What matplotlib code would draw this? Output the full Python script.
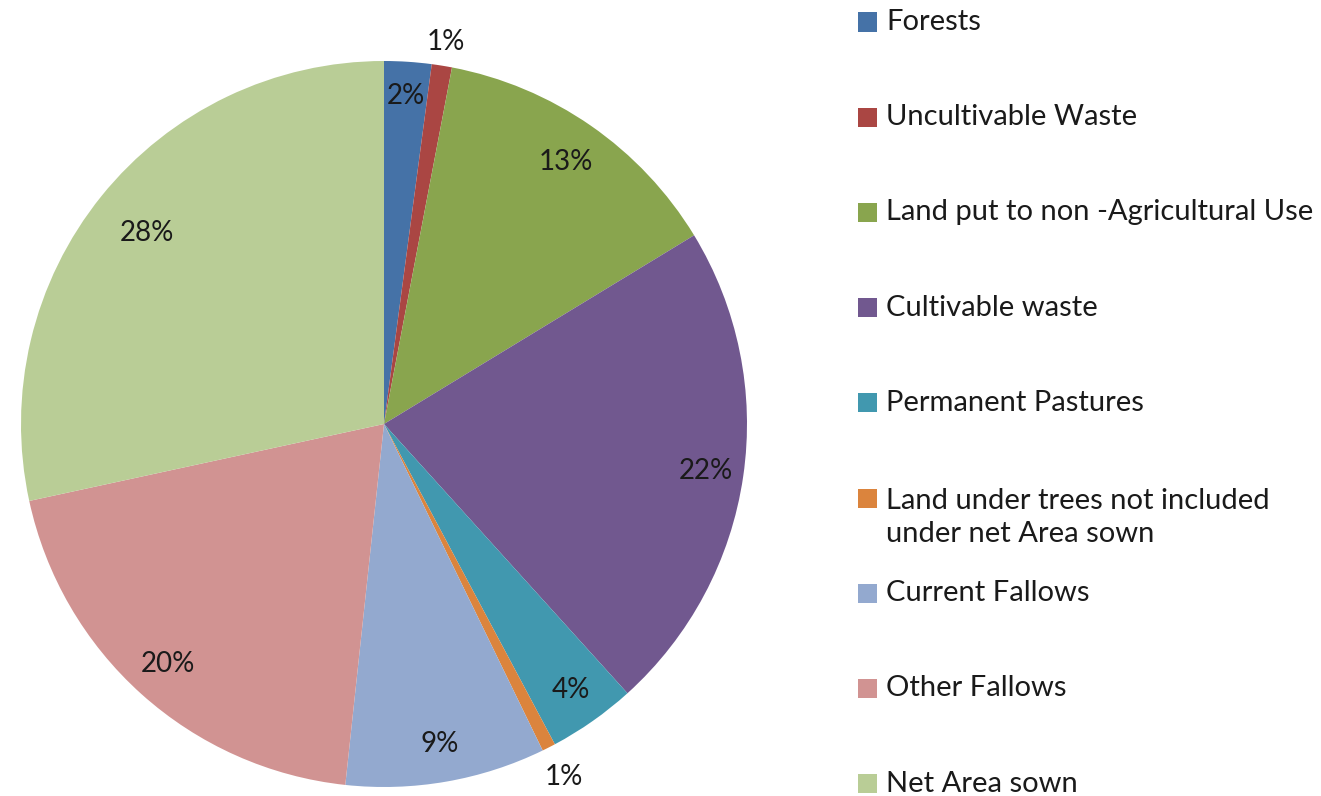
import numpy as np
import matplotlib.pyplot as plt
from matplotlib.patches import Rectangle

# land use shares (percent)
categories = ["Forests", "Uncultivable Waste", "Land put to non -Agricultural Use",
              "Cultivable waste", "Permanent Pastures",
              "Land under trees not included\nunder net Area sown",
              "Current Fallows", "Other Fallows", "Net Area sown"]
shares = [2.1, 0.9, 13.3, 22.0, 3.9, 0.6, 8.9, 19.9, 28.4]
pct_labels = ["2%", "1%", "13%", "22%", "4%", "1%", "9%", "20%", "28%"]

colors = ["#4572A7", "#AA4643", "#89A54E", "#71588F", "#4198AF",
          "#DB843D", "#93A9CF", "#D19392", "#B9CD96"]
label_r = [0.905, 1.065, 0.877, 0.896, 0.894, 1.09, 0.895, 0.89, 0.84]

plt.rcParams['font.family'] = ['Lato', 'DejaVu Sans']

W, H = 1321, 796
fig = plt.figure(figsize=(W / 100, H / 100), dpi=100)
cx, cy, R = 384, 424, 363
ax = fig.add_axes([(cx - R) / W, (H - cy - R) / H, 2 * R / W, 2 * R / H])

wedges, _ = ax.pie(shares, colors=colors, startangle=90, counterclock=False,
                   radius=1, wedgeprops=dict(linewidth=0))
ax.set_xlim(-1, 1)
ax.set_ylim(-1, 1)
ax.set_aspect('equal')
ax.axis('off')

# percent labels at the middle angle of each wedge
for w, lab, r in zip(wedges, pct_labels, label_r):
    ang = np.deg2rad((w.theta1 + w.theta2) / 2)
    ax.text(r * np.cos(ang), r * np.sin(ang), lab, ha='center', va='center',
            fontsize=20, color='#1a1a1a')

# legend on the right, fixed slots like the original
slot0, step = 22, 95.2
for i, (name, c) in enumerate(zip(categories, colors)):
    y = slot0 + i * step
    fig.add_artist(Rectangle((858 / W, 1 - (y + 9.5) / H), 19 / W, 19 / H,
                             facecolor=c, edgecolor='none',
                             transform=fig.transFigure))
    nlines = name.count('\n') + 1
    yc = y + (nlines - 1) * 19.5
    fig.text(886 / W, 1 - yc / H, name, ha='left', va='center',
             fontsize=21, color='#1a1a1a', linespacing=1.35)

fig.savefig("out.png", dpi=100)
